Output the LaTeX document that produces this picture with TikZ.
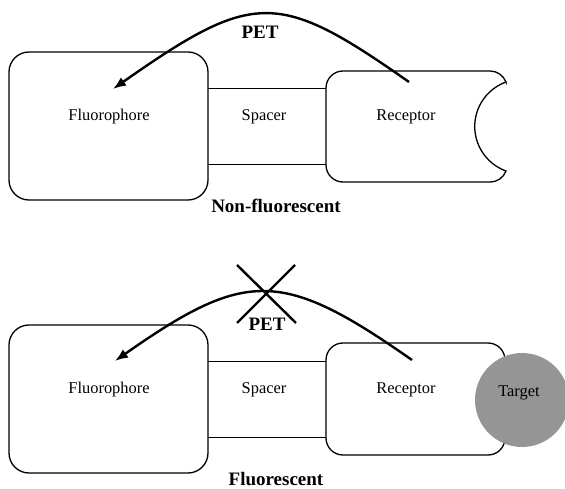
\documentclass[tikz,border=0pt]{standalone}
\usepackage{fontspec}
\setmainfont{Liberation Serif}
\usetikzlibrary{arrows.meta}
\definecolor{targetgray}{HTML}{959595}
\tikzset{
  box/.style={draw, line width=1.3pt, rounded corners=20pt, inner sep=0pt},
  rbox/.style={draw, line width=1.3pt, rounded corners=17pt, inner sep=0pt},
  lbl/.style={anchor=base, inner sep=0pt, font=\fontsize{16.4}{18}\selectfont},
  blbl/.style={anchor=base, inner sep=0pt, font=\fontsize{19}{21}\selectfont\bfseries},
  petarrow/.style={line width=2.4pt, -{Latex[length=13pt,width=10pt]}},
  crossline/.style={line width=2.4pt},
  spacerline/.style={line width=1.3pt},
}
\begin{document}
\begin{tikzpicture}[x=1pt,y=1pt]
\useasboundingbox (0,0) rectangle (565,-489);

% ---------- top panel ----------
\node[box, minimum width=199pt, minimum height=148pt] (fluoA) at (108.5,-126) {};
\node[inner sep=0pt, minimum width=118pt, minimum height=75pt] (spacerA) at (267,-126.5) {};
\draw[spacerline] (spacerA.north west) -- (spacerA.north east);
\draw[spacerline] (spacerA.south west) -- (spacerA.south east);
\draw[line width=1.3pt] (506,-82) arc[start angle=109.8, end angle=250.2, radius=47.3]
  arc[start angle=-20.6, end angle=-90, radius=17.1]
  -- (343,-182) arc[start angle=270, end angle=180, radius=17]
  -- (326,-88) arc[start angle=180, end angle=90, radius=17]
  -- (490,-71) arc[start angle=90, end angle=20.6, radius=17.1] -- cycle;
\coordinate (receptorA) at (416,-126.5);

\node[lbl] (tfluoA) at (109,-121) {Fluorophore};
\node[lbl] (tspacerA) at (264,-121) {Spacer};
\node[lbl] (trecA) at (406,-121) {Receptor};
\node[blbl] (petA) at (260,-39) {PET};
\node[blbl] (nonfl) at (276,-213) {Non-fluorescent};

\coordinate (startA) at (409,-82);
\coordinate (tipA) at (113,-89);
\draw[petarrow] (startA) .. controls (278,9.9) and (254,9.9) .. (tipA);

% ---------- bottom panel ----------
\node[box, minimum width=199pt, minimum height=148pt] (fluoB) at (108.5,-399) {};
\node[inner sep=0pt, minimum width=118pt, minimum height=75pt] (spacerB) at (267,-399.5) {};
\draw[spacerline] (spacerB.north west) -- (spacerB.north east);
\draw[spacerline] (spacerB.south west) -- (spacerB.south east);
\node[rbox, minimum width=179pt, minimum height=112pt] (receptorB) at (415.5,-399) {};
\node[circle, fill=targetgray, minimum size=94pt, inner sep=0pt] (target) at (522,-400) {};

\node[lbl] (tfluoB) at (109,-393) {Fluorophore};
\node[lbl] (tspacerB) at (264,-393) {Spacer};
\node[lbl] (trecB) at (406,-393) {Receptor};
\node[lbl] (ttarget) at (519,-396) {Target};
\node[blbl] (petB) at (267,-330) {PET};
\node[blbl] (fl) at (276,-485) {Fluorescent};

\coordinate (startB) at (412,-360);
\coordinate (tipB) at (115,-361);
\draw[petarrow] (startB) .. controls (282,-269) and (246,-269) .. (tipB);

\coordinate (xa1) at (237,-265);
\coordinate (xa2) at (296,-323);
\coordinate (xb1) at (295,-265);
\coordinate (xb2) at (237,-323);
\draw[crossline] (xa1) -- (xa2);
\draw[crossline] (xb1) -- (xb2);
\end{tikzpicture}
\end{document}
